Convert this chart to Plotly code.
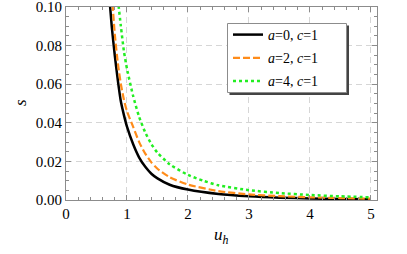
import plotly.graph_objects as go

# Data
u_a0 = [0.70, 0.75, 0.80, 0.85, 0.90, 0.95, 1.00, 1.10, 1.20, 1.30, 1.40, 1.50, 1.70, 2.00, 2.50, 3.00, 3.50, 4.00, 4.50, 5.00]
s_a0 = [0.109, 0.090, 0.075, 0.062, 0.051, 0.044, 0.038, 0.029, 0.022, 0.0172, 0.0136, 0.0112, 0.0079, 0.0054, 0.0031, 0.0019, 0.0012, 0.0008, 0.0005, 0.0004]

u_a2 = [0.74, 0.80, 0.85, 0.90, 0.95, 1.00, 1.10, 1.20, 1.30, 1.40, 1.50, 1.70, 2.00, 2.50, 3.00, 3.50, 4.00, 4.50, 5.00]
s_a2 = [0.112, 0.086, 0.071, 0.060, 0.052, 0.046, 0.038, 0.030, 0.024, 0.0195, 0.0162, 0.0118, 0.0080, 0.0046, 0.0029, 0.0020, 0.0014, 0.0010, 0.0007]

u_a4 = [0.83, 0.90, 0.95, 1.00, 1.10, 1.20, 1.30, 1.40, 1.50, 1.70, 2.00, 2.25, 2.50, 3.00, 3.50, 4.00, 4.50, 5.00]
s_a4 = [0.110, 0.090, 0.077, 0.068, 0.054, 0.043, 0.035, 0.029, 0.0245, 0.0185, 0.0130, 0.0100, 0.0076, 0.0051, 0.0036, 0.0026, 0.0019, 0.0014]

names = ["<i>a</i>=0, <i>c</i>=1", "<i>a</i>=2, <i>c</i>=1", "<i>a</i>=4, <i>c</i>=1"]
x_ticks = [0, 1, 2, 3, 4, 5]
y_ticks = [0.00, 0.02, 0.04, 0.06, 0.08, 0.10]
y_tick_text = ["0.00", "0.02", "0.04", "0.06", "0.08", "0.10"]
x_title = "<i>u</i><sub><i>h</i></sub>"
y_title = "<i>s</i>"

FONT = "'Liberation Serif', 'DejaVu Serif', serif"

fig = go.Figure()
fig.add_trace(go.Scatter(x=u_a0, y=s_a0, mode="lines", name=names[0], legendgroup="g0",
                         line=dict(color="black", width=2.5, shape="spline", smoothing=0.6)))
fig.add_trace(go.Scatter(x=u_a2, y=s_a2, mode="lines", name=names[1], legendgroup="g1",
                         line=dict(color="#ff8c1a", width=2.2, dash="7px,3px", shape="spline", smoothing=0.6)))
fig.add_trace(go.Scatter(x=u_a4, y=s_a4, mode="lines", name=names[2], legendgroup="g2",
                         line=dict(color="#22ee22", width=2.5, dash="3px,3px", shape="spline", smoothing=0.6)))

# pixel geometry of the plot frame
L, R, T, B = 66, 377, 7, 200
W, H = 407, 254
pw, ph = R - L, B - T

def px_x(p):
    return (p - L) / pw

def px_y(p):
    return (B - p) / ph

# legend frame with drop shadow
fig.add_shape(type="rect", xref="paper", yref="paper",
              x0=px_x(229.5), x1=px_x(349), y0=px_y(95), y1=px_y(25.5),
              fillcolor="#444444", line=dict(width=0), layer="above")
fig.add_shape(type="rect", xref="paper", yref="paper",
              x0=px_x(227.5), x1=px_x(346.5), y0=px_y(92.5), y1=px_y(23.5),
              fillcolor="white", line=dict(color="#8c8c8c", width=1), layer="above")

axis_common = dict(
    showline=True, linecolor="#8c8c8c", linewidth=1, mirror="allticks",
    ticks="inside", ticklen=5, tickwidth=1, tickcolor="#8c8c8c",
    showgrid=True, gridcolor="#d6d6d6", gridwidth=1, griddash="6px,4px",
    zeroline=False, automargin=False, ticklabeloverflow="allow",
    tickfont=dict(family=FONT, size=15, color="black"),
)

fig.update_xaxes(range=[0, 5.1], tickvals=x_ticks, ticktext=[str(v) for v in x_ticks],
                 minor=dict(dtick=0.2, ticklen=3, tickcolor="#8c8c8c", showgrid=False, ticks="inside"),
                 **axis_common)
fig.update_yaxes(range=[0, 0.1], tickvals=y_ticks, ticktext=y_tick_text,
                 minor=dict(dtick=0.005, ticklen=3, tickcolor="#8c8c8c", showgrid=False, ticks="inside"),
                 **axis_common)

fig.add_annotation(text=x_title, xref="paper", yref="paper", x=px_x(221), y=px_y(236),
                   xanchor="center", yanchor="middle", showarrow=False,
                   font=dict(family=FONT, size=17, color="black"))
fig.add_annotation(text=y_title, xref="paper", yref="paper", x=px_x(20), y=px_y(103),
                   xanchor="center", yanchor="middle", showarrow=False, textangle=-90,
                   font=dict(family=FONT, size=17, color="black"))

fig.update_layout(
    width=W, height=H,
    margin=dict(l=L, r=W - R, t=T, b=H - B, pad=0),
    paper_bgcolor="white", plot_bgcolor="white",
    showlegend=True,
    legend=dict(x=px_x(228), y=px_y(19), xanchor="left", yanchor="top",
                bgcolor="rgba(0,0,0,0)", borderwidth=0,
                font=dict(family=FONT, size=14, color="black"),
                tracegroupgap=2, itemwidth=30),
    font=dict(family=FONT),
)

fig.write_html("out.html", config={"displayModeBar": False},
               post_script="document.body.style.margin='0';")
